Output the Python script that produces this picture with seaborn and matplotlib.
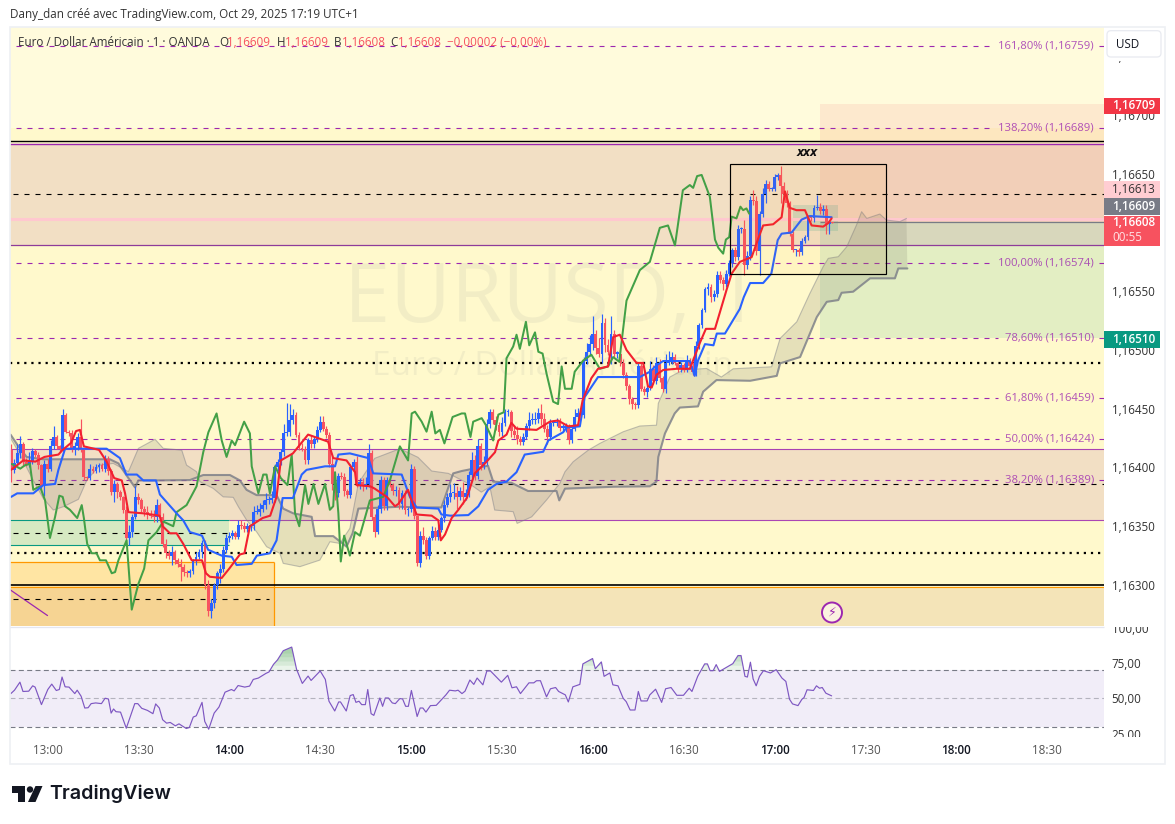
import numpy as np
import matplotlib
matplotlib.use("Agg")
import matplotlib.pyplot as plt
from matplotlib.patches import Rectangle, Polygon, Circle, FancyBboxPatch
import seaborn as sns

# prices are stored as points above 1.16000 (608 = 1,16608), time as minutes after 13:00
FIRST_BAR = -12
FIRST_OPEN = 415
CLOSE = [
    398,404,412,420,405,403,405,414,411,402,
    384,403,399,418,426,418,416,445,430,429,
    416,418,426,415,392,391,399,397,400,402,
    399,407,397,379,386,379,375,364,340,345,
    358,375,372,365,362,360,359,358,368,358,
    335,327,325,328,321,318,315,311,310,312,
    320,324,328,336,300,278,285,300,310,314,
    330,340,342,344,341,351,350,348,350,350,
    362,362,365,368,372,372,374,400,405,413,
    429,430,440,445,428,417,416,406,423,420,
    424,432,439,433,428,403,386,378,393,392,
    380,377,400,405,386,388,385,386,412,358,
    345,365,389,367,389,385,380,381,369,378,
    364,365,399,359,319,342,338,325,340,346,
    341,347,357,368,375,378,378,375,380,375,
    378,394,406,393,418,402,405,437,447,440,
    436,430,438,447,447,431,428,424,422,426,
    435,440,440,441,446,441,433,426,438,438,
    439,434,434,435,423,433,443,446,445,491,
    498,505,514,502,497,523,504,498,514,497,
    497,489,479,469,458,454,453,486,467,464,
    468,484,474,489,476,467,489,491,494,489,
    484,487,483,491,486,481,503,521,534,552,
    554,545,548,564,560,556,565,574,585,579,
    603,603,572,580,628,627,584,616,633,641,
    637,637,647,649,640,633,625,599,585,585,
    583,593,596,613,612,621,622,618,620,607,
    609,608,
]
WICK_UP = [
    5,3,8,7,2,3,8,3,2,2,
    1,3,4,5,9,2,1,5,1,2,
    3,4,3,15,2,1,4,2,3,2,
    2,4,3,2,3,2,2,1,3,6,
    2,9,3,2,2,5,4,5,5,2,
    3,4,3,5,2,2,4,3,2,2,
    2,4,3,2,2,4,3,2,2,4,
    3,3,3,3,2,4,4,4,3,2,
    5,6,5,4,6,4,6,3,2,3,
    8,25,14,5,2,2,4,2,2,5,
    3,3,5,5,2,2,6,2,2,3,
    3,2,3,2,5,3,3,6,8,3,
    2,3,4,3,3,3,2,3,2,3,
    3,1,4,2,0,4,7,3,2,4,
    3,4,2,4,3,8,9,6,3,8,
    4,3,7,5,6,3,5,4,3,3,
    4,3,5,3,3,2,5,7,3,3,
    3,7,6,6,5,8,5,3,3,2,
    3,3,3,3,2,3,7,5,3,3,
    8,8,15,3,8,8,4,5,15,3,
    2,3,3,2,2,2,2,3,3,2,
    2,7,3,5,3,2,8,8,4,3,
    2,3,2,5,2,4,5,2,2,2,
    3,2,3,3,3,2,3,3,2,3,
    3,2,8,4,3,8,4,2,5,4,
    3,2,3,2,8,3,3,2,2,1,
    2,2,2,2,2,2,10,3,3,3,
    2,0,
]
WICK_DOWN = [
    10,3,2,4,4,2,3,2,2,3,
    3,8,3,2,2,2,3,2,1,2,
    3,5,3,2,3,2,2,2,2,4,
    2,3,3,2,8,5,3,3,2,6,
    4,2,3,3,3,4,2,4,4,3,
    3,4,3,8,3,3,12,3,3,3,
    3,3,2,5,3,4,6,5,3,8,
    3,3,3,3,2,2,2,3,3,4,
    3,2,3,3,3,3,2,3,3,3,
    3,2,3,3,2,2,2,3,3,3,
    3,2,2,2,3,3,5,6,3,2,
    4,3,3,3,3,4,5,3,3,3,
    4,2,4,3,3,2,3,4,4,4,
    4,5,3,3,3,4,3,3,3,2,
    3,3,2,3,2,4,5,10,3,6,
    3,3,3,4,3,4,3,3,3,3,
    4,3,3,3,3,5,3,4,3,3,
    2,3,3,3,3,5,3,6,3,3,
    3,3,3,4,3,2,2,2,2,3,
    3,3,5,5,3,8,6,2,10,3,
    4,3,3,3,4,4,3,2,2,2,
    4,2,3,3,3,3,4,2,3,2,
    3,3,2,2,2,2,3,2,2,2,
    5,4,3,3,3,5,2,2,3,3,
    2,3,8,3,3,4,3,20,3,8,
    2,2,2,2,15,3,3,2,2,5,
    3,2,2,2,2,3,2,2,3,8,
    8,0,
]

TENKAN = [(-12,398),(-8,406),(-4,405),(-1,409),(3.6,411),(5,415),(7.8,421),(9.4,431),(10.7,432),(12,418),
    (17,415),(19.5,405),(22,391),(24.5,389),(25.6,378),(26.7,362),(31.6,361),(37,359),(38,350),(40.4,344),
    (42.6,344),(44.8,335),(47.6,321),(51,321),(52.3,310),(53.6,307),(57.5,306),(60,314),(63.5,326),(65,327),
    (66.8,350),(71,357),(73.5,359),(75.6,375),(77,406),(81,412),(86,428),(92.6,422),(94.3,408),(98.7,406),
    (101.5,396),(102,385),(106.5,384),(108,382),(112,375),(114.7,367),(115.8,369),(119,381),(120.8,367),(121.8,360),
    (126.8,359),(129,355),(129.8,338),(131.2,343),(133.4,357),(135.6,364),(138.4,374),(140,387),(141,395),(144.4,403.5),
    (147.7,413),(148.8,423),(151.5,428),(153.1,438),(154.8,433),(161.4,432),(165.8,439),(168.5,440),(171.9,435),(175.1,436),
    (176.6,457),(179.5,476),(181.7,484),(185,486),(186.7,511),(188.9,513),(191.1,500),(194.4,489),(196.6,489),(198.2,469),
    (199.4,468),(201,479),(203.2,483),(207.6,484),(212,484),(215.3,506),(217.3,518),(220.3,518),(224.1,551),(225.8,565),
    (228.5,575),(232.4,579),(234.6,595),(236.2,606),(239.5,607),(242.3,613),(243.4,635),(245,621),(247.2,619),(250,619),
    (252.2,606),(256,605),(257.7,608),(258.8,612)]
KIJUN = [(-12,375),(-10,378),(-4.7,378),(-1.4,385),(2.5,386),(3.6,398),(5.8,416),(19.5,416),(23.9,408),(26,394),
    (29.5,394),(31.6,389),(35.8,389),(37.1,377),(42.6,361),(44.8,355),(47,345),(51,342),(53,330),(57.5,325),
    (60.8,324),(62.4,317),(67.4,318),(69.1,325),(73.4,327),(75.6,338),(77.6,374),(81,374),(83.9,394),(85.5,398),
    (91.6,401),(94.9,401),(96,411),(99.8,412),(105.9,408),(107.5,395),(116.9,394),(119.6,375),(121.8,366),(129,365),
    (130,360),(132.9,359),(138.9,359.5),(142.2,367),(145.4,381),(148.2,386),(151.5,388),(154.8,396),(157.5,411),(163.6,413.4),
    (165.3,423),(170.2,430),(171.3,434),(175.7,435),(177.3,460),(181.7,477),(195.5,477),(198.8,481.5),(201,487),(203.2,490.6),
    (212,490.6),(213.6,478),(214.7,491),(217,505),(219.8,504),(220.9,514),(223.6,514),(228.5,535),(229.8,545),(231.9,557),
    (236.2,557),(238.9,565),(241,593.5),(242.3,599),(245.6,600),(248.9,611),(251.6,614),(258.8,613)]
CHIKOU = [(-11.8,403),(-9,399),(-7.4,402),(-5.8,403),(-4.7,381),(-2.5,384),(-0.8,372),(0.8,340),(2.5,358),(3.9,376),
    (5,375),(5.8,367),(7.4,364),(9.8,357),(11.3,368),(12,357),(13.1,335),(14.6,327),(16.2,327),(17.3,321),
    (19.3,321),(21.2,310),(22.3,311),(23.4,321),(26.1,338),(27.8,279),(30,301),(31.9,314),(33.3,338),(36,345),
    (38.2,354),(41.5,350),(42.6,362),(45.9,368),(49.2,384),(51.4,413),(53.1,430),(55.8,446),(57.5,423),(59.1,409),
    (60.8,423),(61.9,419),(64.9,439),(66.8,429),(67.4,401),(69.6,378),(71.2,394),(72.3,394),(73.4,378),(75.1,401),
    (77,391),(79.2,385),(80.6,411),(81.7,361),(83.1,350),(85,385),(86.1,369),(87.8,386),(89.4,369),(91.6,386),
    (93.2,364),(94.3,367),(94.9,396),(96,361),(96.8,320),(97.9,342),(99.8,325),(101.5,345),(103.1,342),(106.4,372),
    (110.8,375),(113,389),(116.3,418),(119,406),(120.2,446),(121.3,447.5),(123.5,439),(125.1,430.5),(126.8,447.5),(128,429),
    (129.5,432),(131,420.5),(133.7,443),(136.7,446),(137.8,446),(139.6,426),(140.5,439),(143.3,442),(144.7,436),(147.1,423),
    (148.8,445),(150.6,447),(151.5,493),(153.7,503),(154.8,513),(155.9,501),(157.9,524),(159,504),(160.9,515),(162,498.5),
    (163.4,497),(164.7,480),(166.9,456),(168.5,454),(169.7,486),(170.8,467),(173,467),(174,481.5),(176.8,491),(179.5,496),
    (182.3,484),(185,486),(186.7,494),(188.7,490),(191.1,542),(195.5,568),(198.8,575),(202.1,604),(204.8,606),(207.1,589),
    (209.7,636),(212,640.4),(213.1,638),(214.4,648),(215.9,649),(217.5,638),(218.6,630.5),(220.3,594),(221.4,587),(223,582),
    (223.9,594),(225,596),(225.8,613.5),(227.4,612),(228.7,622),(229.6,619),(230.7,620.5),(231.6,616)]
SPAN_A = [(-12.2,425),(-9,410.6),(-4.7,389),(-1.4,373.7),(1.9,363.8),(5.2,366.6),(10.2,372.9),(13,389.3),(17.3,402),(21.7,403.5),
    (26.7,396.4),(30,416.3),(35.5,424),(38.2,416.3),(44.3,414.8),(45.9,402),(49.2,396.4),(50.3,387.9),(54.7,382.2),(58,375),
    (61.3,374.6),(63,366.6),(65.7,355.3),(69,345.3),(72.3,332.6),(76.7,326.9),(77.8,318.4),(83.3,315.6),(89.9,321.2),(93.2,336.8),
    (96.5,335.4),(99.8,348.2),(102.6,386.5),(108,407.8),(116.3,416),(122.3,408.6),(126.8,397),(132.3,395),(139.9,385),(143.2,379),
    (146,383.6),(147.6,363.8),(153.7,362.4),(155,352.4),(159.8,358),(164.7,372.3),(169.1,386.5),(170.8,396.4),(173.5,404.9),(178.5,414.8),
    (182.3,420.5),(190,430.4),(195.5,435.3),(201,436),(201.6,454.6),(205.4,477),(209.8,483),(217.5,484.3),(222.4,477),(226.3,484),
    (239,485.7),(241.8,509.9),(247.3,524),(251.6,548),(256,570.9),(257.7,578),(261,579.4),(263.8,587.9),(267,606.3),(268.7,617.7),
    (270.4,612),(274.7,615.7),(276.9,610.6),(281.3,609.2),(283.5,612)]
SPAN_B = [(-12.2,428),(-9.6,418),(-6.9,409),(-1.4,407),(20.6,407),(23.4,403.5),(26.7,391),(28.9,383),(30,389),(36,389),
    (47,389.3),(51.4,393.6),(60.2,393.6),(63.5,389),(65.7,381),(69,376.5),(75.6,376.5),(77.8,365),(81.1,361),(87.2,358),
    (88.3,341.6),(94.3,341.6),(98.7,332.6),(100.7,344),(102.6,365),(116.3,366.6),(121.8,366),(130,366),(131.1,374),(133.9,395),
    (136.7,397),(145.4,401.5),(147.1,388),(153.1,387),(158.6,380),(168,380),(168.9,372),(170.8,382),(186.7,383.6),(198.8,384),
    (201,388),(201.6,409),(203.8,429),(207,446),(208.7,451),(214.7,452),(216.4,464.5),(220.8,474.4),(231.9,473.8),(240.7,478),
    (241.8,488.6),(248.4,494),(253.9,528),(257.2,541),(261,542.5),(262.1,548.7),(265.9,549.6),(271.5,561),(279.7,561),(280.8,569.4),
    (283.8,569.4)]
RSI = [(-12.1,53.3),(-10.9,55.7),(-9.1,61.4),(-8.1,54.8),(-6.2,55),(-4.9,58.8),(-4.1,57.9),(-2,45.5),(0.1,56.2),(1.4,60),
    (2.9,55.5),(3.9,56.2),(4.8,65),(5.8,58.1),(7.1,57.9),(9,53.3),(9.8,55.7),(11.1,51.4),(12.3,43.1),(13.4,43.3),
    (14.4,46.2),(15.9,46.7),(17.8,46.2),(19,50),(20.1,49.5),(21,39.5),(21.8,42.4),(22.6,40.5),(24.1,40.2),(26,28.8),
    (27.9,40.7),(28.8,46.2),(29.8,46.2),(31.1,42.9),(33,41.4),(34.8,39.1),(35.7,46),(36.9,43.1),(38,34.8),(39.3,32.4),
    (40.5,32.9),(42.2,30.5),(43.4,31.9),(45.8,28.6),(46.8,29.3),(48.1,36.7),(49.1,37.6),(51,47.1),(51.9,33.6),(53.2,28.1),
    (55,39.5),(56.6,43.8),(58.6,54.3),(60.7,56.2),(61.6,55.2),(62.9,59),(65.1,57.9),(66.7,58.6),(67.9,63.3),(69.6,64.3),
    (72.1,67.6),(73.1,68.6),(74.6,74),(75.9,77.1),(77.8,83.6),(80.6,86.2),(82.2,70.5),(84.1,60.5),(86,65.7),(87,62.6),
    (90,69.3),(91.7,63.3),(92.9,47.9),(94.8,41),(96.1,47.4),(96.7,47.4),(98.6,41),(99.9,51.9),(100.9,52.6),(101.8,47.1),
    (102.8,47.9),(103.7,45.5),(104.9,45.5),(105.7,56.2),(106.8,39.1),(107.7,37.9),(109.7,50.2),(110.6,44.3),(111.5,50.2),(112.5,50.2),
    (113.8,46.7),(114.8,46.2),(116.3,49.8),(117.2,49.5),(118.2,44.3),(119.1,44.3),(120.1,55.5),(122,37.1),(123,43.1),(123.9,43.1),
    (124.9,40.2),(126.4,44.8),(128.3,45),(131.5,52.4),(132.7,55.7),(134.6,55.2),(135.5,55.7),(136.8,53.3),(137.8,55),(139.4,62.9),
    (140.7,59.8),(141.8,64.3),(143.7,59.5),(145,69.3),(146.2,69.3),(149.8,61.4),(151.9,66.2),(153.3,57.4),(154.8,58.1),(156.1,53.3),
    (158.9,60.9),(160.5,60.9),(161.4,62.4),(162.7,62.4),(164.7,51),(166,56.7),(167.7,57.6),(168.7,54.8),(170.9,52.4),(171.9,47.4),
    (173.4,58.1),(175.7,59.8),(176.7,74.3),(179.9,78.1),(180.8,70.9),(182.8,75.7),(183.7,65.5),(185.6,67.9),(186.6,59.5),(188.3,58.8),
    (190,50),(191,47.6),(192.3,41.7),(193.9,41.7),(195,54.8),(195.9,48.1),(197.9,48.1),(198.8,52.4),(200.7,56.4),(202.7,47.1),
    (204,56.7),(205.8,57.6),(207.7,52.1),(209.9,52.1),(211.8,57.1),(212.7,54.8),(214.6,65.5),(216.9,74.3),(217.8,74.3),(218.7,69.5),
    (219.7,69.5),(220.7,73.8),(221.8,69),(224.7,72.6),(226.2,74.5),(227.9,80.2),(228.9,80.2),(230.2,65.5),(231,65),(232,75.5),
    (232.9,63.6),(233.9,58.8),(235,65.5),(236.3,69.5),(238.6,67.9),(240.5,70.2),(242.4,64.3),(243.7,61.9),(244.9,49.3),(245.9,46),
    (247.7,44.8),(249,49.3),(249.7,50.5),(250.7,56),(252.8,55.5),(253.8,58.8),(254.8,57.1),(255.7,57.6),(256.9,53.6),(258.8,51.7)]

FIB_PTS = [759, 689, 574, 510, 459, 424, 389]
FIB_LABELS = ["161,80% (1,16759)", "138,20% (1,16689)", "100,00% (1,16574)", "78,60% (1,16510)",
              "61,80% (1,16459)", "50,00% (1,16424)", "38,20% (1,16389)"]
PRICE_TICKS = [300, 350, 400, 450, 500, 550, 600, 650, 700, 750]
RSI_TICKS = [25, 50, 75, 100]
TIME_TICKS = [0, 30, 60, 90, 120, 150, 180, 210, 240, 270, 300, 330]
TIME_LABELS = ["13:00", "13:30", "14:00", "14:30", "15:00", "15:30", "16:00", "16:30", "17:00", "17:30", "18:00", "18:30"]
TIME_STRONG = ["14:00", "15:00", "16:00", "17:00", "18:00"]

UP = "#2962FF"
DOWN = "#F7525F"
PURPLE = "#9C27B0"
W, H = 1175, 824
FS = 8.4


def px(points):
    return 1.16 + np.asarray(points, dtype=float) / 1e5


sns.set_theme(style="white")
plt.rcParams["font.family"] = ["Open Sans", "DejaVu Sans"]

fig = plt.figure(figsize=(W / 100, H / 100), dpi=100, facecolor="white")
ax = fig.add_axes([10 / W, (H - 626) / H, 1094 / W, 599 / H], facecolor="#FFF9CC")
ax_rsi = fig.add_axes([10 / W, (H - 737) / H, 1094 / W, 110 / H], facecolor="white", sharex=ax)
over = fig.add_axes([0, 0, 1, 1], facecolor="none", zorder=10)
over.set_xlim(0, W)
over.set_ylim(H, 0)
over.axis("off")

x0, x1 = -12.38, 348.7
ax.set_xlim(x0, x1)
ax.set_ylim(px(265.1), px(774.9))
ax_rsi.set_ylim(22.6, 100.4)

# watermark
ax.text(166.5, px(542), "EURUSD, 1", ha="center", va="center", fontsize=60, color="#787B86", alpha=0.09, zorder=1)
ax.text(166.5, px(486), "Euro / Dollar Américain", ha="center", va="center", fontsize=24, color="#787B86", alpha=0.09, zorder=1)

# top of the pane is a bit paler
ax.axhspan(px(689), px(774.9), color="#FFFBDC", lw=0, zorder=0.5)

# zones
ax.axhspan(px(589.1), px(675.1), color="#F2DFC4", lw=0, zorder=1)
ax.axhspan(px(355.3), px(415.5), color="#F2DFC4", lw=0, zorder=1)
ax.axhspan(px(265.1), px(298.7), color="#F4E4B8", lw=0, zorder=1)
ax.fill_between([x0, 59.9], px(333.8), px(355.3), color="#D6E9C2", lw=0, zorder=1.1)
ax.add_patch(Rectangle((x0, px(265.1)), 74.8 - x0, px(319.3) - px(265.1), fc="#FF9800", alpha=0.2, lw=0, zorder=1.2))

# position boxes
ax.add_patch(Rectangle((254.9, px(608.9)), x1 - 254.9, px(709) - px(608.9), fc="#F23645", alpha=0.09, lw=0, zorder=1.3))
ax.add_patch(Rectangle((254.9, px(510)), x1 - 254.9, px(608.9) - px(510), fc="#089981", alpha=0.11, lw=0, zorder=1.3))
ax.add_patch(Rectangle((246, px(601)), 14.8, px(623) - px(601), fc="#089981", alpha=0.15, lw=0, zorder=1.4))

# horizontal levels
ax.hlines(px(677.6), x0, x1, color="black", lw=1.0, zorder=2)
ax.hlines(px(675.1), x0, x1, color=PURPLE, lw=1.0, zorder=2)
ax.hlines(px(589.1), x0, x1, color="#8E3B9A", lw=0.9, zorder=2)
ax.hlines(px(415.5), x0, x1, color=PURPLE, lw=0.8, alpha=0.85, zorder=2)
ax.hlines(px(355.3), 59.9, x1, color=PURPLE, lw=0.8, alpha=0.85, zorder=2)
ax.hlines([px(355.3), px(333.8)], x0, 59.9, color="#089981", lw=0.8, zorder=2)
ax.hlines(px(611.9), x0, x1, color="#FFC8CF", lw=2.2, zorder=1.8)
ax.hlines(px(608.9), 254.9, x1, color="#787B86", lw=0.9, zorder=2)
ax.hlines(px(300), x0, x1, color="black", lw=1.2, zorder=2.2)
ax.hlines(px(298.7), x0, x1, color="#FF9800", lw=0.8, zorder=2.1)
ax.hlines(px(319.3), x0, 74.8, color="#FF9800", lw=0.9, zorder=2)
ax.vlines(74.8, px(265.1), px(319.3), color="#FF9800", lw=0.9, zorder=2)
ax.plot([x0, 0], px([296, 274]), color=PURPLE, lw=0.9, zorder=2)

dash = (0, (4.5, 5.4))
for lvl, end in [(632.8, x1), (386, x1), (344.5, 59.9), (288, 73)]:
    ax.hlines(px(lvl), x0 + 1, end, color="black", lw=0.8, linestyles=[dash], zorder=2)
for lvl in [488.9, 327.2]:
    ax.hlines(px(lvl), x0, x1, color="black", lw=1.6, linestyles=[(0, (1, 2.2))], zorder=2)

# fibonacci
fib_text_x = [997, 997, 997, 1004, 1004, 1005, 1004]
for lvl, lab, tx in zip(FIB_PTS, FIB_LABELS, fib_text_x):
    stop = (tx - 6 - 47.5) / 3.03
    ax.hlines(px(lvl), x0 + 2, stop, color=PURPLE, lw=0.8, linestyles=[dash], zorder=2.3)
    ax.hlines(px(lvl), (1099 - 47.5) / 3.03, x1, color=PURPLE, lw=0.8, zorder=2.3)
    ax.text((1094 - 47.5) / 3.03, px(lvl), lab, color=PURPLE, alpha=0.8, fontsize=8.15, ha="right", va="center", zorder=2.4)

# ichimoku cloud
ax_a, py_a = np.array(SPAN_A).T
ax_b, py_b = np.array(SPAN_B).T
ax.fill(np.r_[ax_a, ax_b[::-1]], np.r_[px(py_a), px(py_b[::-1])], color="#808070", alpha=0.2, lw=0, zorder=3)
sns.lineplot(x=ax_a, y=px(py_a), sort=False, estimator=None, color="#787B86", alpha=0.45, lw=0.8, ax=ax, zorder=3.1)
sns.lineplot(x=ax_b, y=px(py_b), sort=False, estimator=None, color="#787B86", alpha=0.8, lw=1.5, ax=ax, zorder=3.1)

# candles
closes = np.array(CLOSE, dtype=float)
opens = np.r_[FIRST_OPEN, closes[:-1]]
minutes = FIRST_BAR + np.arange(len(closes))
highs = np.maximum(opens, closes) + np.array(WICK_UP)
lows = np.minimum(opens, closes) - np.array(WICK_DOWN)
cols = [UP if c >= o else DOWN for o, c in zip(opens, closes)]
ax.vlines(minutes, px(lows), px(highs), colors=cols, lw=0.85, zorder=4)
ax.bar(minutes, np.maximum(np.abs(px(closes) - px(opens)), 1e-5), bottom=px(np.minimum(opens, closes)),
       width=0.95, color=cols, lw=0, zorder=4.1)

# indicator lines
for series, colour, width in [(CHIKOU, "#43A047", 1.45), (KIJUN, UP, 1.5), (TENKAN, "#F2202F", 1.5)]:
    mx, my = np.array(series).T
    sns.lineplot(x=mx, y=px(my), sort=False, estimator=None, color=colour, lw=width, ax=ax, zorder=5)

# drawn box with label
ax.add_patch(Rectangle((225.1, px(564.3)), 51.8, px(658.3) - px(564.3), fc="#FF9800", alpha=0.05, lw=0, zorder=5.5))
ax.add_patch(Rectangle((225.1, px(564.3)), 51.8, px(658.3) - px(564.3), fc="none", ec="black", lw=0.85, zorder=5.6))
ax.text(250.6, px(668.5), "xxx", fontsize=9.5, fontweight="bold", fontstyle="italic", color="#111111", ha="center", va="center", zorder=6)

ax.set_yticks(px(PRICE_TICKS))
ax.set_yticklabels([f"1,16{p}" for p in PRICE_TICKS])
ax.yaxis.tick_right()
ax.tick_params(axis="y", length=0, pad=5.5, labelsize=FS, labelcolor="#333333")
ax.tick_params(axis="x", length=0, labelbottom=False)
for side in ax.spines:
    ax.spines[side].set_visible(False)

# rsi pane
ax_rsi.axhspan(30, 70, xmin=0, xmax=1, color="#7E57C2", alpha=0.1, lw=0)
ax_rsi.hlines([70, 30], x0, x1, color="#787B86", lw=0.8, linestyles=[(0, (4.5, 3))])
ax_rsi.hlines(50, x0, x1, color="#787B86", alpha=0.5, lw=0.8, linestyles=[(0, (4.5, 3))])
rx, ry = np.array(RSI).T
# overbought fill darkens towards the line
for level in [70, 73, 76, 79, 82]:
    ax_rsi.fill_between(rx, level, ry, where=ry > level, interpolate=True, color="#43A047", alpha=0.11, lw=0)
sns.lineplot(x=rx, y=ry, sort=False, estimator=None, color="#7E57C2", lw=0.85, ax=ax_rsi)
ax_rsi.set_yticks(RSI_TICKS)
ax_rsi.set_yticklabels(["25,00", "50,00", "75,00", "100,00"])
ax_rsi.yaxis.tick_right()
ax_rsi.tick_params(axis="y", length=0, pad=5.5, labelsize=FS, labelcolor="#333333")
ax_rsi.set_xticks(TIME_TICKS)
ax_rsi.set_xticklabels(TIME_LABELS)
ax_rsi.tick_params(axis="x", length=0, pad=5, labelsize=FS, labelbottom=True)
for lab in ax_rsi.get_xticklabels():
    strong = lab.get_text() in TIME_STRONG
    lab.set_color("#131722" if strong else "#555555")
    lab.set_fontweight("semibold" if strong else "normal")
for side in ax_rsi.spines:
    ax_rsi.spines[side].set_visible(False)
ax_rsi.set_xlabel("")
ax_rsi.set_ylabel("")
ax.set_xlabel("")
ax.set_ylabel("")

# frame and chrome, in figure pixels
over.add_patch(Rectangle((1104, 612), 61, 15, fc="white", lw=0))
over.add_patch(Rectangle((1104, 737), 61, 14, fc="white", lw=0))
over.add_patch(Rectangle((10, 27), 1155, 737, fc="none", ec="#EEF0F4", lw=1.2))
over.hlines(627, 10, 1104, color="#E4E6F0", lw=0.9)

over.text(10, 14.5, "Dany_dan créé avec TradingView.com, Oct 29, 2025 17:19 UTC+1", fontsize=FS, color="#333333", va="center")

over.text(17.5, 42, "Euro / Dollar Américain · 1 · OANDA", fontsize=FS, color="#333333", va="center")
for xt, t, colour in [(219, "O", "#333333"), (227.5, "1,16609", DOWN), (276.5, "H", "#333333"), (285, "1,16609", DOWN),
                      (334, "B", "#333333"), (342, "1,16608", DOWN), (390, "C", "#333333"), (398, "1,16608", DOWN),
                      (447, "−0,00002 (−0,00%)", DOWN)]:
    over.text(xt, 42, t, fontsize=FS, color=colour, va="center")

over.add_patch(Rectangle((1106, 57), 50, 3.5, fc="white", lw=0))
over.add_patch(FancyBboxPatch((1107, 30.7), 54, 26.3, boxstyle="round,pad=0,rounding_size=4", fc="white", ec="#E8EAF0", lw=0.9))
over.text(1116, 44.5, "USD", fontsize=FS, color="#131722", va="center")

for top, bot, face, colour, label in [(97.5, 113.5, "#F23645", "white", "1,16709"),
                                      (181, 197.7, "#FFCDD2", "#333333", "1,16613"),
                                      (198.3, 215, "#787B86", "white", "1,16609"),
                                      (331, 347.7, "#089981", "white", "1,16510")]:
    over.add_patch(Rectangle((1104, top), 56, bot - top, fc=face, lw=0))
    over.text(1112, (top + bot) / 2, label, color=colour, fontsize=FS, va="center",
              fontweight="semibold" if colour == "white" else "normal")
over.add_patch(Rectangle((1104, 215.7), 56, 30, fc=DOWN, lw=0))
over.text(1112, 222.5, "1,16608", color="white", fontsize=FS, va="center", fontweight="semibold")
over.text(1112, 237.5, "00:55", color="#FFE3E5", fontsize=FS, va="center")

# alert icon
over.add_patch(Circle((832, 612.5), 10, fc="#FBF3E0", ec=PURPLE, lw=1.4))
over.text(832, 612.5, "⚡", color=PURPLE, fontsize=9, ha="center", va="center", family=["DejaVu Sans"])

# tradingview logo
over.add_patch(Polygon([(12, 786), (25, 786), (25, 802), (18, 802), (18, 792.5), (12, 792.5)], fc="#131722", lw=0))
over.add_patch(Circle((30, 789.5), 3.2, fc="#131722", lw=0))
over.add_patch(Polygon([(35.5, 786), (42.5, 786), (35.5, 802), (28, 802)], fc="#131722", lw=0))
over.text(49, 794, "TradingView", fontsize=14.2, fontweight="semibold", color="#131722", va="center", family=["Inter", "DejaVu Sans"])

fig.savefig("out.png", dpi=100, facecolor="white")
